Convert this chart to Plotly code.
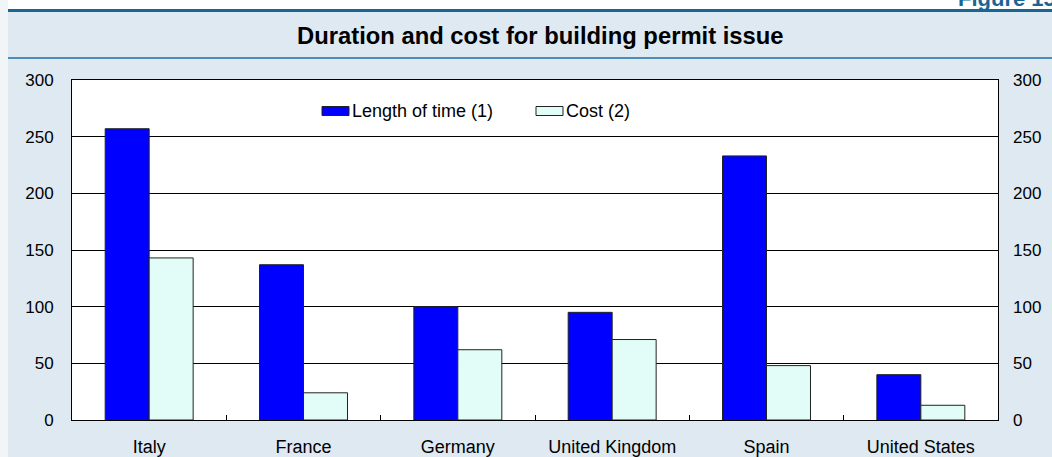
import plotly.graph_objects as go

countries = ["Italy", "France", "Germany", "United Kingdom", "Spain", "United States"]
length_of_time = [257, 137, 100, 95, 233, 40]
cost = [143, 24, 62, 71, 48, 13]
y_ticks = [0, 50, 100, 150, 200, 250, 300]

W, H = 1052, 457
L, R, T, B = 72, 54, 80, 37
PW, PH = W - L - R, H - T - B


def px(x):
    return (x - L) / PW


def py(y):
    return (H - B - y) / PH


FONT = "Liberation Sans, Arial, sans-serif"
BG = "#dee9f2"

fig = go.Figure()
fig.add_trace(go.Bar(x=countries, y=length_of_time, name="Length of time (1)",
                     marker=dict(color="#0000ff", line=dict(color="#222222", width=1)),
                     showlegend=False))
fig.add_trace(go.Bar(x=countries, y=cost, name="Cost (2)",
                     marker=dict(color="#e2fdf7", line=dict(color="#222222", width=1)),
                     showlegend=False))
# invisible trace to drive the right axis
fig.add_trace(go.Scatter(x=[countries[0]], y=[0], yaxis="y2", mode="markers",
                         marker=dict(opacity=0), showlegend=False, hoverinfo="skip"))

shapes = [
    # white outer strips
    dict(type="rect", xref="paper", yref="paper", x0=px(-5), x1=px(W + 5), y0=py(10), y1=py(-5),
         fillcolor="white", line=dict(width=0), layer="below"),
    dict(type="rect", xref="paper", yref="paper", x0=px(-5), x1=px(8), y0=py(H + 5), y1=py(-5),
         fillcolor="#f1f5f8", line=dict(width=0), layer="below"),
    # header lines
    dict(type="line", xref="paper", yref="paper", x0=px(8), x1=px(W + 5), y0=py(10.5), y1=py(10.5),
         line=dict(color="#1b6594", width=3)),
    dict(type="line", xref="paper", yref="paper", x0=px(8), x1=px(W + 5), y0=py(58), y1=py(58),
         line=dict(color="#4b8fb6", width=2)),
    # legend swatches
    dict(type="rect", xref="paper", yref="paper", x0=px(322), x1=px(349), y0=py(115.5), y1=py(106.5),
         fillcolor="#0000ff", line=dict(color="#222222", width=1)),
    dict(type="rect", xref="paper", yref="paper", x0=px(536), x1=px(563), y0=py(115.5), y1=py(106.5),
         fillcolor="#e2fdf7", line=dict(color="#222222", width=1)),
]

annotations = [
    dict(text="<b>Duration and cost for building permit issue</b>", xref="paper", yref="paper",
         x=px(540), y=py(35), xanchor="center", yanchor="middle", showarrow=False,
         font=dict(family=FONT, size=23.8, color="#000000")),
    dict(text="<b>Figure 15.</b>", xref="paper", yref="paper",
         x=px(956), y=py(12.5), xanchor="left", yanchor="bottom", showarrow=False,
         font=dict(family=FONT, size=22, color="#1b6594")),
    dict(text="Length of time (1)", xref="paper", yref="paper",
         x=px(350), y=py(111), xanchor="left", yanchor="middle", showarrow=False,
         font=dict(family=FONT, size=18, color="#000000")),
    dict(text="Cost (2)", xref="paper", yref="paper",
         x=px(564), y=py(111), xanchor="left", yanchor="middle", showarrow=False,
         font=dict(family=FONT, size=18, color="#000000")),
]

fig.update_layout(
    width=W, height=H,
    margin=dict(l=L, r=R, t=T, b=B, pad=0),
    paper_bgcolor=BG, plot_bgcolor="white",
    barmode="group", bargap=0.43, bargroupgap=0,
    font=dict(family=FONT, size=17, color="#000000"),
    shapes=shapes, annotations=annotations,
    xaxis=dict(showline=True, linecolor="#000000", linewidth=1, mirror=True,
               ticks="inside", tickson="boundaries", ticklen=5, tickcolor="#000000",
               ticklabelstandoff=10, showgrid=False, zeroline=False, automargin=False,
               tickfont=dict(family=FONT, size=18)),
    yaxis=dict(range=[0, 300], tickvals=y_ticks, showline=True, linecolor="#000000",
               linewidth=1, mirror=True, showgrid=True, gridcolor="#000000", gridwidth=1,
               zeroline=False, ticks="", ticklabelstandoff=14, automargin=False,
               tickfont=dict(family=FONT, size=17)),
    yaxis2=dict(range=[0, 300], tickvals=y_ticks, overlaying="y", side="right",
                showgrid=False, zeroline=False, showline=False, ticks="", automargin=False,
                ticklabelstandoff=14, tickfont=dict(family=FONT, size=17)),
)

fig.write_html("out.html", config={"displayModeBar": False},
               post_script="document.body.style.margin='0';")
